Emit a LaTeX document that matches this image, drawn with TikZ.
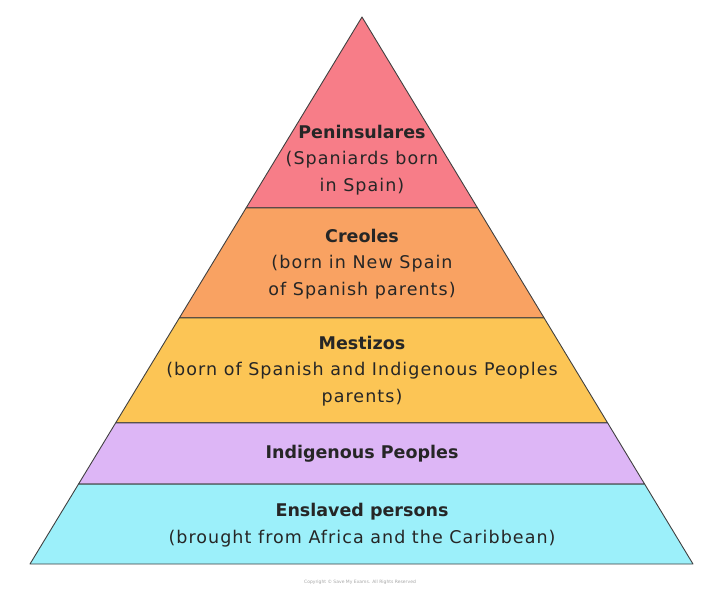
\documentclass[tikz,border=0pt]{standalone}
\usepackage{fontspec}
\setmainfont{DejaVu Sans}
\newfontfamily\tierfont[LetterSpace=6, BoldFeatures={LetterSpace=0}]{DejaVu Sans}
\usetikzlibrary{calc}

\definecolor{peninsular}{HTML}{F77D88}
\definecolor{creole}{HTML}{F9A262}
\definecolor{mestizo}{HTML}{FCC555}
\definecolor{indigenous}{HTML}{DDB6F6}
\definecolor{enslaved}{HTML}{9CF0FA}

\begin{document}
\begin{tikzpicture}[x=1pt,y=-1pt,
		tier/.style={draw=black!75, line width=0.9pt, line join=round},
		tiertext/.style={align=center, text=black!85, font=\tierfont\fontsize{17.5}{26.5}\selectfont},
		small/.style={text=black!35, font=\fontsize{4.5}{5}\selectfont}
	]
	
	\useasboundingbox (0,0) rectangle (720,595);
	
	\coordinate (top) at (362,17);
	\coordinate (bl) at (30,564);
	\coordinate (br) at (693,564);
	
	% layer boundaries along the two sides
	\foreach \n/\t in {a/0.349, b/0.550, c/0.742, d/0.854} {
		\coordinate (l\n) at ($(top)!\t!(bl)$);
		\coordinate (r\n) at ($(top)!\t!(br)$);
	}
	
	\filldraw[tier, fill=peninsular] (top) -- (la) -- (ra) -- cycle;
	\filldraw[tier, fill=creole] (la) -- (lb) -- (rb) -- (ra) -- cycle;
	\filldraw[tier, fill=mestizo] (lb) -- (lc) -- (rc) -- (rb) -- cycle;
	\filldraw[tier, fill=indigenous] (lc) -- (ld) -- (rd) -- (rc) -- cycle;
	\filldraw[tier, fill=enslaved] (ld) -- (bl) -- (br) -- (rd) -- cycle;
	
	\node[tiertext] (peninsulares) at (362,160) {\textbf{Peninsulares}\\(Spaniards born\\in Spain)};
	\node[tiertext] (creoles) at (362,264) {\textbf{Creoles}\\(born in New Spain\\of Spanish parents)};
	\node[tiertext] (mestizos) at (362,371) {\textbf{Mestizos}\\(born of Spanish and Indigenous Peoples\\parents)};
	\node[tiertext] (indigenous) at (362,454) {\textbf{Indigenous Peoples}};
	\node[tiertext] (enslaved) at (362,525) {\textbf{Enslaved persons}\\(brought from Africa and the Caribbean)};
	
	\node[small] (copyright) at (360,582) {Copyright © Save My Exams. All Rights Reserved};
\end{tikzpicture}
\end{document}
